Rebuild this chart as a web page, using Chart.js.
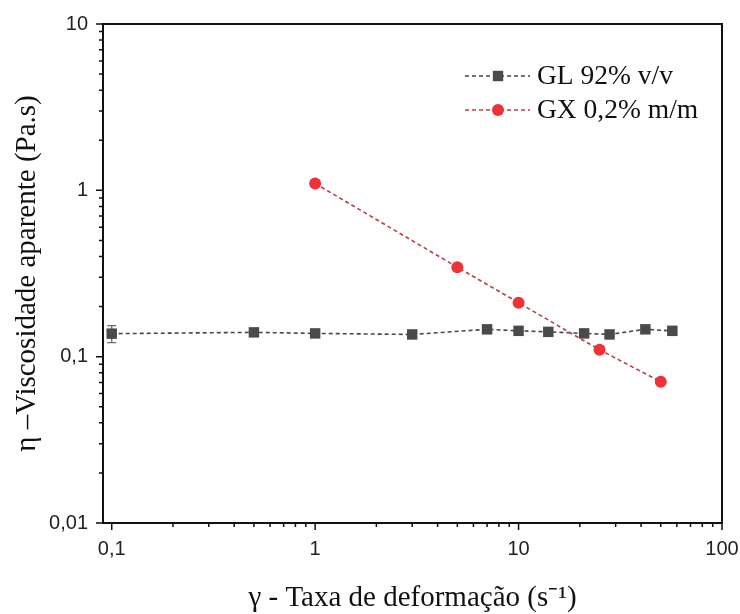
<!DOCTYPE html>
<html>
<head>
<meta charset="utf-8">
<script src="https://cdn.jsdelivr.net/npm/chart.js@4.4.1/dist/chart.umd.min.js"></script>
<style>
  html, body { margin: 0; padding: 0; background: #ffffff; }
  #wrap { width: 740px; height: 614px; }
</style>
</head>
<body>
<div id="wrap"><canvas id="chart" width="740" height="614"></canvas></div>
<script>
// shear rate (1/s) and apparent viscosity (Pa.s)
const glRate = [0.1, 0.5, 1, 3, 7, 10, 14, 21, 28, 42, 57];
const glVisc = [0.1375, 0.140, 0.138, 0.136, 0.146, 0.143, 0.141, 0.138, 0.136, 0.146, 0.143];
const glErr = [0.016, 0, 0, 0, 0, 0, 0, 0, 0, 0, 0];

const gxRate = [1, 5, 10, 25, 50];
const gxVisc = [1.1, 0.345, 0.211, 0.11, 0.0707];

const seriesLabels = ["GL 92% v/v", "GX 0,2% m/m"];
const xTickLabels = { "0.1": "0,1", "1": "1", "10": "10", "100": "100" };
const yTickLabels = { "0.01": "0,01", "0.1": "0,1", "1": "1", "10": "10" };

const toPoints = (xs, ys) => xs.map((x, i) => ({ x, y: ys[i] }));
const keyOf = (v) => String(Number(v.toPrecision(6)));

// is the value n * 10^k with integer n (i.e. a regular log tick)
const isLogTick = (v) => {
    const e = Math.floor(Math.log10(v) + 1e-9);
    const s = v / Math.pow(10, e);
    return Math.abs(s - Math.round(s)) < 1e-6;
};
const isMajor = (v) => {
    const l = Math.log10(v);
    return Math.abs(l - Math.round(l)) < 1e-9;
};

// box, outward ticks, error bars and legend
const decorations = {
    id: "decorations",
    beforeDatasetsDraw(c) {
        const { ctx } = c;
        const xs = c.scales.x;
        const ys = c.scales.y;
        // error bars for GL
        ctx.save();
        ctx.strokeStyle = "#6a6a6a";
        ctx.lineWidth = 1.3;
        glErr.forEach((e, i) => {
            if (!e) return;
            const px = xs.getPixelForValue(glRate[i]);
            const top = ys.getPixelForValue(glVisc[i] + e);
            const bot = ys.getPixelForValue(glVisc[i] - e);
            ctx.beginPath();
            ctx.moveTo(px, top);
            ctx.lineTo(px, bot);
            ctx.moveTo(px - 4.5, top);
            ctx.lineTo(px + 4.5, top);
            ctx.moveTo(px - 4.5, bot);
            ctx.lineTo(px + 4.5, bot);
            ctx.stroke();
        });
        ctx.restore();
    },
    afterDraw(c) {
        const { ctx, chartArea: a } = c;
        const xs = c.scales.x;
        const ys = c.scales.y;
        ctx.save();
        ctx.strokeStyle = "#111";
        ctx.lineWidth = 2;
        ctx.strokeRect(a.left, a.top, a.right - a.left, a.bottom - a.top);

        ctx.lineWidth = 1.5;
        ctx.beginPath();
        xs.ticks.forEach((t) => {
            if (!isLogTick(t.value)) return;
            const px = xs.getPixelForValue(t.value);
            const len = isMajor(t.value) ? 7 : 4;
            ctx.moveTo(px, a.bottom);
            ctx.lineTo(px, a.bottom + len);
        });
        ys.ticks.forEach((t) => {
            if (!isLogTick(t.value)) return;
            const py = ys.getPixelForValue(t.value);
            const len = isMajor(t.value) ? 7 : 4;
            ctx.moveTo(a.left, py);
            ctx.lineTo(a.left - len, py);
        });
        ctx.stroke();

        // legend: dashed line with marker, then text
        const rows = [76, 110];
        c.data.datasets.forEach((ds, i) => {
            const y = rows[i];
            ctx.setLineDash([4, 3]);
            ctx.strokeStyle = ds.borderColor;
            ctx.lineWidth = 1.6;
            ctx.beginPath();
            ctx.moveTo(465, y);
            ctx.lineTo(530, y);
            ctx.stroke();
            ctx.setLineDash([]);
            ctx.fillStyle = ds.pointBackgroundColor;
            if (ds.pointStyle === "rect") {
                ctx.fillRect(498 - 5.2, y - 5.2, 10.4, 10.4);
            } else {
                ctx.beginPath();
                ctx.arc(498, y, 6, 0, Math.PI * 2);
                ctx.fill();
            }
            ctx.fillStyle = "#111";
            ctx.font = "27.5px 'Liberation Serif', 'Times New Roman', serif";
            ctx.textBaseline = "middle";
            ctx.textAlign = "left";
            ctx.fillText(seriesLabels[i], 537, y + 1);
        });
        ctx.restore();
    },
};

const ctx = document.getElementById("chart");
const tickFont = { family: "'Liberation Sans', Arial, sans-serif", size: 20 };
const titleFont = { family: "'Liberation Serif', 'Times New Roman', serif", size: 29, lineHeight: 1 };

// eslint-disable-next-line no-unused-vars
const chart = new Chart(ctx, {
    type: "scatter",
    data: {
        datasets: [
            {
                label: seriesLabels[0],
                data: toPoints(glRate, glVisc),
                showLine: true,
                borderColor: "#474747",
                borderWidth: 1.6,
                borderDash: [4, 3],
                pointStyle: "rect",
                pointRadius: 7.4,
                pointBackgroundColor: "#4a4a4a",
                pointBorderColor: "#4a4a4a",
                pointBorderWidth: 0,
                order: 2,
            },
            {
                label: seriesLabels[1],
                data: toPoints(gxRate, gxVisc),
                showLine: true,
                borderColor: "#b8404b",
                borderWidth: 1.6,
                borderDash: [4, 3],
                pointStyle: "circle",
                pointRadius: 6,
                pointBackgroundColor: "#ee3338",
                pointBorderColor: "#ee3338",
                pointBorderWidth: 0,
                order: 1,
            },
        ],
    },
    options: {
        responsive: false,
        animation: false,
        events: [],
        layout: { autoPadding: false, padding: { top: 24, right: 18, left: 0, bottom: 0 } },
        plugins: {
            legend: { display: false },
            tooltip: { enabled: false },
        },
        scales: {
            x: {
                type: "logarithmic",
                min: 0.0906,
                max: 100,
                grid: { display: false, drawTicks: false },
                border: { display: false },
                afterFit(scale) {
                    scale.height = 91;
                    scale.paddingLeft = 0;
                    scale.paddingRight = 0;
                },
                ticks: {
                    autoSkip: false,
                    maxRotation: 0,
                    padding: 14,
                    color: "#222",
                    font: tickFont,
                    callback: (v) => (isMajor(v) ? xTickLabels[keyOf(v)] || "" : ""),
                },
                title: {
                    display: true,
                    text: "γ - Taxa de deformação (s⁻¹)",
                    color: "#111",
                    font: titleFont,
                    padding: { top: 0, bottom: 1 },
                },
            },
            y: {
                type: "logarithmic",
                min: 0.01,
                max: 10,
                grid: { display: false, drawTicks: false },
                border: { display: false },
                afterFit(scale) {
                    scale.width = 103;
                    scale.paddingTop = 0;
                    scale.paddingBottom = 0;
                },
                ticks: {
                    autoSkip: false,
                    padding: 15,
                    color: "#222",
                    font: tickFont,
                    callback: (v) => (isMajor(v) ? yTickLabels[keyOf(v)] || "" : ""),
                },
                title: {
                    display: true,
                    text: "η –Viscosidade aparente (Pa.s)",
                    color: "#111",
                    font: titleFont,
                    padding: { top: 13, bottom: 0 },
                },
            },
        },
    },
    plugins: [decorations],
});
</script>
</body>
</html>
